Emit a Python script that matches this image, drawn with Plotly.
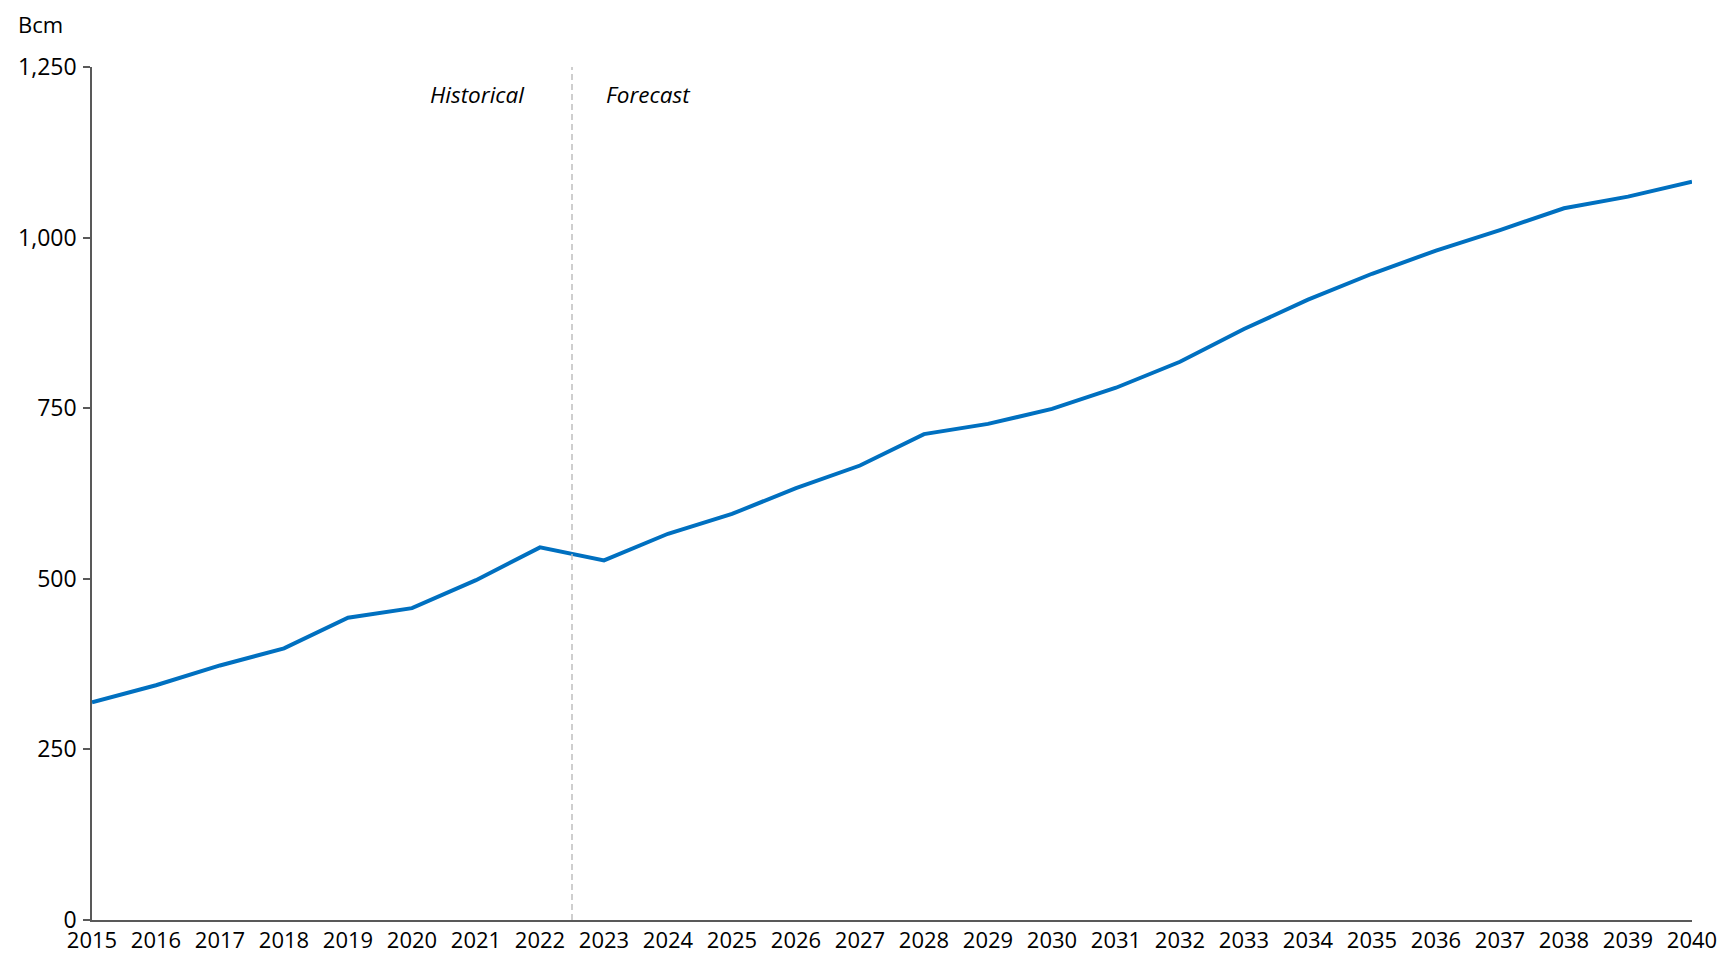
import plotly.graph_objects as go

years = list(range(2015, 2041))
demand_bcm = [319, 344, 373, 398, 443, 457, 498, 546, 527, 566, 595, 633, 666,
              712, 727, 749, 780, 818, 866, 909, 947, 981, 1011, 1043, 1060, 1082]
y_ticks = [0, 250, 500, 750, 1000, 1250]
y_tick_labels = ["0", "250", "500", "750", "1,000", "1,250"]
divider_year = 2022.5
unit_label = "Bcm"
period_labels = ["Historical", "Forecast"]

FONT = "Open Sans"
AXIS_COLOR = "#595959"

fig = go.Figure()
fig.add_trace(go.Scatter(
    x=years, y=demand_bcm, mode="lines",
    line=dict(color="#0070C0", width=4),
    showlegend=False, hoverinfo="x+y",
))

fig.add_shape(type="line", x0=divider_year, x1=divider_year, y0=0, y1=1250,
              xref="x", yref="y",
              line=dict(color="#BFBFBF", width=1.5, dash="6px,4px"))

fig.add_annotation(x=divider_year - 0.7, y=1209, xref="x", yref="y",
                   text=f"<i>{period_labels[0]}</i>", showarrow=False,
                   xanchor="right", yanchor="middle",
                   font=dict(family=FONT, size=22.5, color="#000000"))
fig.add_annotation(x=divider_year + 0.5, y=1209, xref="x", yref="y",
                   text=f"<i>{period_labels[1]}</i>", showarrow=False,
                   xanchor="left", yanchor="middle",
                   font=dict(family=FONT, size=22.5, color="#000000"))
fig.add_annotation(x=-0.047, y=1.0692, xref="paper", yref="paper",
                   text=unit_label, showarrow=False, borderpad=0,
                   xanchor="left", yanchor="top",
                   font=dict(family=FONT, size=22, color="#000000"))

# page body has an 8px default margin, so the figure is offset by 8px
fig.update_layout(
    width=1719, height=946,
    margin=dict(l=84, r=35, t=59, b=34),
    paper_bgcolor="white", plot_bgcolor="white",
    font=dict(family=FONT, size=23, color="#000000"),
    xaxis=dict(
        range=[2015, 2040], tickmode="array", tickvals=years,
        ticktext=[str(y) for y in years],
        showgrid=False, zeroline=False, automargin=False,
        showline=True, linecolor=AXIS_COLOR, linewidth=1.5,
        ticks="", ticklabelstandoff=0,
        tickfont=dict(family=FONT, size=22, color="#000000"),
    ),
    yaxis=dict(
        range=[0, 1250], tickmode="array", tickvals=y_ticks,
        ticktext=y_tick_labels,
        showgrid=False, zeroline=False, automargin=False,
        showline=True, linecolor=AXIS_COLOR, linewidth=1.5,
        ticks="outside", ticklen=7, tickcolor=AXIS_COLOR, tickwidth=1.5,
        ticklabelstandoff=2,
        tickfont=dict(family=FONT, size=23, color="#000000"),
    ),
)

fig.write_html("out.html")
